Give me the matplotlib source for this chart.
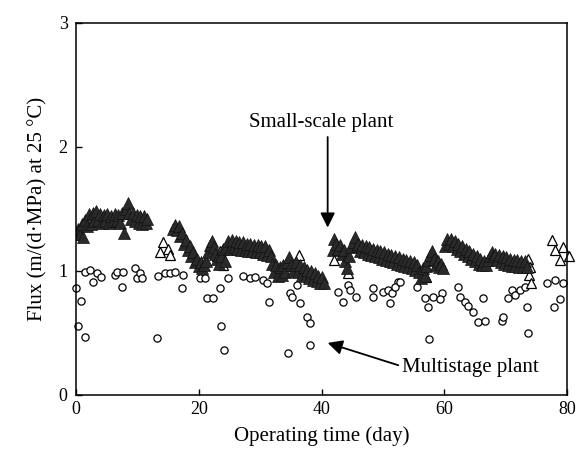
import matplotlib.pyplot as plt

plt.rcParams['font.family'] = ['Liberation Serif', 'DejaVu Serif']

# small-scale plant, filled triangles (day, flux)
small_days = [
    0.0, 0.3, 0.6, 0.9, 1.2, 1.5, 1.8, 2.1, 2.4, 2.7, 3.0, 3.3, 3.6, 3.9, 4.2, 4.5, 4.8, 5.1,
    5.4, 5.7, 6.0, 6.3, 6.6, 6.9, 7.2, 7.5, 7.8, 8.1, 8.4, 8.7, 9.0, 9.3, 9.6, 9.9, 10.2,
    10.5, 10.8, 11.1, 11.4, 11.6,
    15.8, 16.1, 16.4, 16.7, 17.0, 17.3, 17.6, 17.9, 18.2, 18.5, 18.8, 19.1, 19.4, 19.7,
    20.0, 20.3, 20.6, 20.9, 21.2, 21.5, 21.8, 22.1, 22.4, 22.7, 23.0, 23.3, 23.6, 23.9, 24.2,
    24.5, 24.8, 25.1, 25.4, 25.7, 26.0, 26.3, 26.6, 26.9, 27.2, 27.5, 27.8, 28.1, 28.4,
    28.7, 29.0, 29.3, 29.6, 29.9, 30.2, 30.5, 30.8, 31.1, 31.4, 31.7,
    32.0, 32.3, 32.6, 32.9, 33.2, 33.5, 33.8, 34.1, 34.4, 34.7, 35.0, 35.3, 35.6,
    35.9, 36.2, 36.5, 36.8, 37.1, 37.4, 37.7, 38.0, 38.3, 38.6, 38.9, 39.2, 39.5, 39.8,
    40.1, 40.4,
    41.8, 42.1, 42.4, 42.7, 43.0, 43.3, 43.6, 43.9, 44.2, 44.5, 44.8, 45.1, 45.4, 45.7,
    46.0, 46.3, 46.6, 46.9, 47.2, 47.5, 47.8, 48.1, 48.4, 48.7, 49.0, 49.3, 49.6, 49.9,
    50.2, 50.5, 50.8, 51.1, 51.4, 51.7, 52.0, 52.3, 52.6, 52.9, 53.2, 53.5, 53.8, 54.1,
    54.4, 54.7, 55.0, 55.3, 55.6, 55.9, 56.2, 56.5, 56.8, 57.1, 57.4, 57.7, 58.0, 58.3,
    58.6, 58.9, 59.2, 59.5, 59.8,
    60.2, 60.5, 60.8, 61.1, 61.4, 61.7, 62.0, 62.3, 62.6, 62.9, 63.2, 63.5, 63.8, 64.1,
    64.4, 64.7, 65.0, 65.3, 65.6, 65.9, 66.2, 66.5, 66.8, 67.1, 67.4, 67.7, 68.0, 68.3,
    68.6, 68.9, 69.2, 69.5, 69.8, 70.1, 70.4, 70.7, 71.0, 71.3, 71.6, 71.9, 72.2, 72.5,
    72.8, 73.1, 73.4,
]
small_flux = [
    1.30, 1.34, 1.30, 1.38, 1.27, 1.41, 1.36, 1.46, 1.38, 1.47, 1.40, 1.48, 1.41, 1.46, 1.39,
    1.45, 1.40, 1.46, 1.39, 1.44, 1.40, 1.46, 1.41, 1.45, 1.39, 1.47, 1.31, 1.50, 1.55, 1.47,
    1.42, 1.47, 1.40, 1.45, 1.39, 1.44, 1.38, 1.44, 1.39, 1.42,
    1.34, 1.37, 1.33, 1.36, 1.28, 1.31, 1.22, 1.25, 1.17, 1.20, 1.12, 1.15, 1.07, 1.10,
    1.04, 1.07, 1.02, 1.05, 1.08, 1.15, 1.21, 1.24, 1.19, 1.14, 1.10, 1.06, 1.12, 1.18, 1.08,
    1.19, 1.24, 1.18, 1.25, 1.19, 1.24, 1.18, 1.23, 1.17, 1.23, 1.17, 1.22, 1.16, 1.22,
    1.16, 1.21, 1.15, 1.21, 1.15, 1.20, 1.14, 1.20, 1.13, 1.17, 1.12,
    1.06, 0.99, 1.05, 0.96, 1.03, 0.97, 1.05, 0.99, 1.07, 1.11, 1.05, 1.00, 1.05,
    1.07, 0.99, 1.05, 0.97, 1.03, 0.96, 1.01, 0.94, 1.00, 0.93, 0.98, 0.92, 0.96, 0.90,
    0.95, 0.90,
    1.17, 1.26, 1.22, 1.18, 1.21, 1.14, 1.17, 1.08, 1.02, 1.12, 1.19, 1.23, 1.27, 1.20,
    1.22, 1.16, 1.21, 1.15, 1.20, 1.14, 1.19, 1.13, 1.18, 1.12, 1.17, 1.11, 1.16, 1.10,
    1.15, 1.09, 1.14, 1.08, 1.13, 1.07, 1.12, 1.06, 1.11, 1.05, 1.10, 1.04, 1.09, 1.03,
    1.08, 1.02, 1.07, 1.01, 1.05, 0.99, 0.94, 1.02, 0.96, 1.04, 1.09, 1.13, 1.16, 1.10,
    1.05, 1.08, 1.03, 1.06, 1.02,
    1.20, 1.26, 1.22, 1.26, 1.20, 1.24, 1.18, 1.22, 1.16, 1.20, 1.14, 1.18, 1.12, 1.16,
    1.10, 1.14, 1.08, 1.12, 1.06, 1.10, 1.05, 1.08, 1.05, 1.09, 1.12, 1.15, 1.12, 1.14,
    1.09, 1.13, 1.07, 1.12, 1.06, 1.11, 1.05, 1.10, 1.04, 1.09, 1.04, 1.09, 1.03, 1.08,
    1.03, 1.08, 1.03,
]

# small-scale plant, open triangles
small_open_days = [13.7, 14.2, 15.0, 15.3, 16.3, 22.9, 23.5, 24.0, 36.3, 42.0, 44.3, 57.0,
                   73.6, 73.8, 74.0, 74.1, 77.6, 78.0, 78.9, 79.4, 80.3]
small_open_flux = [1.15, 1.23, 1.18, 1.13, 1.35, 1.12, 1.16, 1.05, 1.13, 1.09, 0.98, 0.95,
                   1.10, 0.97, 1.03, 0.90, 1.25, 1.17, 1.09, 1.19, 1.12]

# multistage plant, open circles
multi_days = [
    0.0, 0.8, 0.3, 1.5, 1.5, 2.3, 2.7, 3.4, 4.1, 6.4, 6.6, 7.7, 7.5, 9.6, 9.9, 10.4, 10.7,
    13.2, 13.4, 14.5, 15.3, 16.1, 17.4, 17.2, 20.2, 21.0, 21.3, 22.3, 23.5, 23.6, 24.1, 24.8,
    27.2, 28.4, 29.2, 30.5, 31.1, 31.5, 34.9, 35.2, 36.5, 36.0, 37.6, 38.1, 34.5, 38.1,
    42.7, 43.5, 44.3, 44.6, 45.6, 48.4, 48.4, 50.0, 50.8, 51.5, 51.2, 52.5, 52.0,
    52.8, 55.5, 56.9, 57.4, 58.2, 59.6, 59.3, 57.5, 62.3, 62.6, 63.4, 63.9, 64.7, 65.5,
    66.6, 66.3, 69.4, 69.6, 70.4, 71.0, 71.5, 72.3, 73.5, 73.7, 73.2, 76.7, 78.0, 77.8,
    78.9, 79.4,
]
multi_flux = [
    0.86, 0.76, 0.56, 0.47, 0.99, 1.01, 0.91, 0.98, 0.95, 0.97, 0.99, 0.99, 0.87, 1.02, 0.94,
    0.98, 0.94, 0.46, 0.96, 0.98, 0.98, 0.99, 0.97, 0.86, 0.94, 0.94, 0.78, 0.78, 0.86, 0.56,
    0.36, 0.94,
    0.96, 0.94, 0.95, 0.93, 0.90, 0.75, 0.82, 0.79, 0.74, 0.89, 0.63, 0.58, 0.34, 0.40,
    0.83, 0.75, 0.89, 0.85, 0.79, 0.86, 0.79, 0.83, 0.85, 0.82, 0.74, 0.91, 0.87,
    0.91, 0.87, 0.78, 0.71, 0.79, 0.82, 0.77, 0.45, 0.87, 0.79, 0.75, 0.72, 0.67, 0.59,
    0.60, 0.78, 0.60, 0.63, 0.78, 0.85, 0.81, 0.85, 0.71, 0.50, 0.87, 0.90, 0.93, 0.71,
    0.77, 0.90,
]

fig = plt.figure(figsize=(5.79, 4.61), dpi=100)
ax = fig.add_axes([0.1313, 0.1432, 0.848, 0.807])

ax.plot(multi_days, multi_flux, 'o', ms=5.2, mfc='white', mec='black', mew=0.9, clip_on=False)
ax.plot(small_open_days, small_open_flux, '^', ms=7.5, mfc='white', mec='black', mew=0.9,
        clip_on=False)
ax.plot(small_days, small_flux, '^', ms=8.5, mfc='#2a2a2a', mec='#111111', mew=0.5)

ax.set_xlim(0, 80)
ax.set_ylim(0, 3)
ax.set_xticks([0, 20, 40, 60, 80])
ax.set_yticks([0, 1, 2, 3])
ax.tick_params(direction='in', length=4, width=1, labelsize=13)
ax.tick_params(axis='x', pad=4)
ax.tick_params(axis='y', pad=6)
for s in ax.spines.values():
    s.set_linewidth(1.1)

ax.set_xlabel('Operating time (day)', fontsize=15, labelpad=6)
ax.set_ylabel('Flux (m/(d·MPa) at 25 °C)', fontsize=15, labelpad=8)

arrow = dict(arrowstyle='-|>', mutation_scale=22, lw=1.3, color='black', shrinkA=0, shrinkB=0)
ax.annotate('', xy=(41, 1.35), xytext=(41, 2.08), arrowprops=arrow)
ax.text(40, 2.2, 'Small-scale plant', fontsize=15, ha='center', va='center')
ax.annotate('', xy=(41, 0.42), xytext=(52.5, 0.24), arrowprops=arrow)
ax.text(53.1, 0.22, 'Multistage plant', fontsize=15, ha='left', va='center')

fig.savefig('out.png', dpi=100)
